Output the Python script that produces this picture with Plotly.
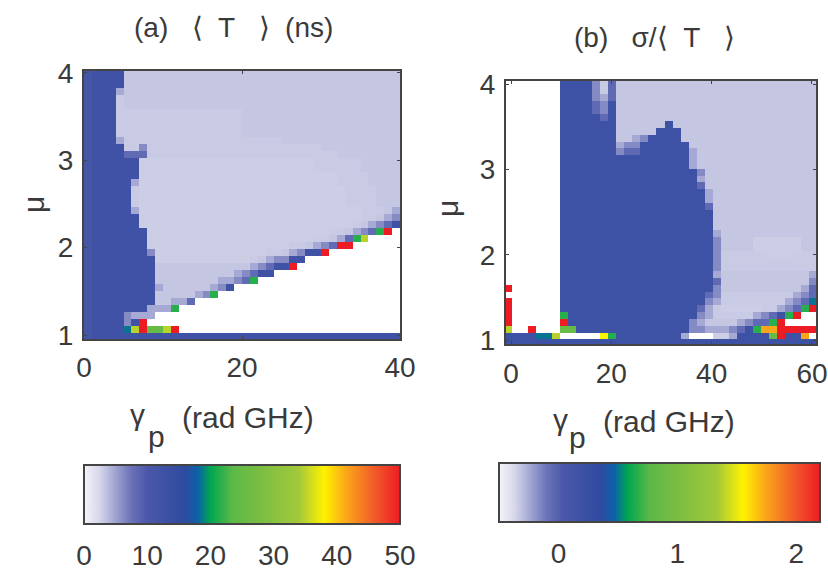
import re
import plotly.graph_objects as go

W, H = 828, 571

# Colour levels: symbol -> value
levels_a = dict(k=2.9, l=3.05, L=3.3, m=4.7, n=6.2, b=8.2, D=11, d=12.5, t=18.5, g=21.5,
                G=25, y=35, Y=38, o=41.5, r=50)
levels_b = dict(k=-0.343, l=-0.335, L=-0.322, m=-0.246, n=-0.16, b=-0.05, D=0.0, d=0.18, t=0.5, g=0.66,
                G=0.85, y=1.39, Y=1.55, o=1.74, r=2.2)

# Panel (a): rows from top (mu~4) to bottom (mu~1); run-length coded cells, "." = no data
rows_a = [
    "D1 d4 L35", "D1 d4 L35", "D1 d4 L35", "D1 d3 m1 L35",
    "D1 d3 l1 L35", "D1 d3 l1 L35", "D1 d3 l16 L20", "D1 d3 l16 L20",
    "D1 d3 l16 L20", "D1 d3 l16 L20", "D1 d3 m1 l20 L15", "D1 d4 l2 n1 l22 L10",
    "D1 d4 b3 l24 L8", "D1 d6 k22 l6 L5", "D1 d6 k22 l6 L5", "D1 d6 k25 l4 L4",
    "D1 d5 m1 k25 l4 L4", "D1 d5 l1 k26 l4 L3", "D1 d5 l1 k26 l4 L3", "D1 d5 l1 k26 l4 L3",
    "D1 d5 m1 k28 l3 L1 m1", "D1 d6 k28 l2 L1 m1 n1", "D1 d6 k27 l1 L1 m1 n1 b1 d1",
    "D1 d7 k23 l2 L1 m1 n1 b1 g1 r1 .1", "D1 d7 k21 l2 L1 m1 b1 g1 y1 .4",
    "D1 d7 k18 l2 L1 m1 n1 b1 r2 .6", "D1 d7 n1 k14 l2 L1 m1 n1 d2 r1 .9",
    "D1 d8 k12 l1 L1 m1 n2 d2 .12", "D1 d8 L12 m1 n1 b1 d2 r1 .13",
    "D1 d8 L10 m1 n1 b1 d2 .16", "D1 d8 L8 m2 n1 b1 g1 .18", "D1 d8 m1 L6 m1 n1 d1 .21",
    "D1 d8 L5 m1 n1 g1 .23", "D1 d8 L2 m2 b1 .26", "D1 d7 m3 g1 .28", "D1 d4 n1 m3 .31",
    "D1 d4 n1 d1 r1 .32", "D1 d4 t1 y1 r1 G2 y1 r1 .28", "D1 d39",
]

# Panel (b)
rows_b = [
    ".7 d4 n1 l1 b1 L25", ".7 d4 n1 l1 b1 L25", ".7 d4 n1 m1 b1 L25", ".7 d4 b1 n1 d1 L25",
    ".7 d4 b1 n1 d1 L25", ".7 d5 b1 d1 L25", ".7 d7 L6 d1 L18", ".7 d7 L5 d3 L17",
    ".7 d7 L2 m1 n1 d4 L17", ".7 d7 m1 n2 d6 L16", ".7 d7 n1 b2 d6 m1 L15", ".7 d16 m1 L15",
    ".7 d16 m1 L15", ".7 d17 n1 L14", ".7 d17 m1 L14", ".7 d17 b1 L14", ".7 d18 m1 L13",
    ".7 d18 m1 L13", ".7 d18 b1 L13", ".7 d19 L13", ".7 d19 L13", ".7 d19 L13",
    ".7 d19 m1 L12", ".7 d19 n1 L4 k6 L2", ".7 d19 n1 L4 k6 L2", ".7 d19 n1 l6 k3 l3",
    ".7 d19 n1 l12", ".7 d19 n1 l12", ".7 d19 m1 L11 m1", ".7 d19 b1 L11 n1",
    "r1 .6 d19 n1 L10 m1 b1", ".7 d18 b1 n1 l9 m1 n1 b1", "r1 .6 d18 n1 m1 l8 m1 n1 b1 t1",
    "r1 .6 d17 b1 m1 l1 k5 l2 m1 n1 b1 g1 r1", "r1 .6 g1 d16 n1 m1 l5 m1 n1 b1 d1 g1 r1 .2",
    "r1 .6 r1 d15 n1 m1 L4 m1 n1 b2 g1 r1 .4", "y1 .2 r1 .3 G2 d14 n2 m3 n1 b1 d1 g1 o2 r5",
    "d4 t2 y1 .5 Y1 g1 d8 m1 .3 k2 m1 d4 G1 r1 d2 o1 .1", "d39",
]

x_a = [0.5 + i for i in range(40)]
y_a = [0.99 + 0.08 * i for i in range(39)]
x_b = [-0.6 + 1.6 * i for i in range(39)]
y_b = [0.97 + 0.08 * i for i in range(39)]

ticks_x_a = [0, 20, 40]
ticks_x_b = [0, 20, 40, 60]
ticks_y = [1, 2, 3, 4]
ticks_cb_a = [0, 10, 20, 30, 40, 50]
ticks_cb_b = [0, 1, 2]

colorscale = [
    [0.00, "#f4f4fa"], [0.05, "#d5d6ea"], [0.10, "#9fa3d0"], [0.15, "#6a72b8"],
    [0.20, "#4b58a9"], [0.32, "#2e4a9f"], [0.36, "#0b62a8"], [0.40, "#00a651"],
    [0.47, "#5cb947"], [0.55, "#78bd43"], [0.68, "#a3c93a"], [0.76, "#fff200"],
    [0.83, "#faa61a"], [0.92, "#f15a29"], [1.00, "#ed1c24"],
]

TXT = "#3a3a3a"
FRAME = "#444444"
FONT = "Liberation Sans, Arial, sans-serif"
SIZE = 28


def decode(rows, levels, ncol):
    z = []
    for row in rows:
        cells = []
        for sym, n in re.findall(r"(\S)(\d+)", row):
            cells += [None if sym == "." else levels[sym]] * int(n)
        assert len(cells) == ncol, (row, len(cells))
        z.append(cells)
    return z[::-1]


def fx(p):
    return p / W


def fy(p):
    return 1 - p / H


def cbar(x0, x1, y0, y1, tickvals):
    return dict(
        orientation="h", xref="paper", yref="paper",
        x=fx(x0), xanchor="left", y=fy(y0), yanchor="top",
        lenmode="pixels", len=x1 - x0, thicknessmode="pixels", thickness=y1 - y0,
        xpad=0, ypad=0, outlinecolor=FRAME, outlinewidth=2, borderwidth=0,
        ticks="outside", ticklen=7, tickcolor="rgba(0,0,0,0)", tickwidth=1, tickvals=tickvals,
        tickfont=dict(size=SIZE, color=TXT, family=FONT),
    )


fig = go.Figure()
fig.add_trace(go.Heatmap(
    x=x_a, y=y_a, z=decode(rows_a, levels_a, 40), zmin=0, zmax=50, colorscale=colorscale,
    xaxis="x", yaxis="y", hoverongaps=False, colorbar=cbar(84, 400, 465, 524, ticks_cb_a),
))
fig.add_trace(go.Heatmap(
    x=x_b, y=y_b, z=decode(rows_b, levels_b, 39), zmin=-0.5, zmax=2.2, colorscale=colorscale,
    xaxis="x2", yaxis="y2", hoverongaps=False, colorbar=cbar(499, 820, 463, 522, ticks_cb_b),
))

axis_common = dict(
    showgrid=False, zeroline=False, showline=True, linecolor=FRAME, linewidth=2, mirror="allticks",
    ticks="inside", ticklen=3, tickcolor=FRAME, tickwidth=1,
    tickfont=dict(size=SIZE, color=TXT, family=FONT),
)

fig.update_layout(
    width=W, height=H, autosize=False,
    margin=dict(l=0, r=0, t=0, b=0, pad=0, autoexpand=False),
    paper_bgcolor="white", plot_bgcolor="white", showlegend=False,
    font=dict(family=FONT, size=SIZE, color=TXT),
    xaxis=dict(domain=[fx(84), fx(400)], range=[0, 40], tickvals=ticks_x_a, anchor="y",
               ticklabelstandoff=2, **axis_common),
    yaxis=dict(domain=[fy(339), fy(71)], range=[0.955, 4.02], tickvals=ticks_y, anchor="x",
               ticklabelstandoff=3, **axis_common),
    xaxis2=dict(domain=[fx(506), fx(816)], range=[-1, 60.8], tickvals=ticks_x_b, anchor="y2",
                ticklabelstandoff=3, **axis_common),
    yaxis2=dict(domain=[fy(344), fy(81)], range=[0.953, 4.04], tickvals=ticks_y, anchor="x2",
                ticklabelstandoff=3, **axis_common),
)

# small inward tick marks on both long edges of the colour bars, placed from the tick values
for x0, x1, y0, y1, lo, hi, vals in [(84, 400, 465, 524, 0, 50, ticks_cb_a),
                                     (499, 820, 463, 522, -0.5, 2.2, ticks_cb_b)]:
    for v in vals:
        px = x0 + (v - lo) / (hi - lo) * (x1 - x0)
        for a, b in [(y0, y0 + 3), (y1 - 3, y1)]:
            fig.add_shape(type="line", xref="paper", yref="paper", x0=fx(px), x1=fx(px),
                          y0=fy(a), y1=fy(b), line=dict(color=FRAME, width=1))

NB = "\u00a0"
labels = [
    (f"(a){NB*3}⟨{NB*2}T{NB*3}⟩{NB*2}(ns)", 234, 28, 0, SIZE),
    (f"(b){NB*3}σ/⟨{NB*2}T{NB*3}⟩", 654, 38, 0, SIZE),
    ("μ", 33, 205, -90, 30),
    ("μ", 447, 208, -90, 30),
    ("γ", 137, 414, 0, 30),
    ("p", 156, 436, 0, 30),
    ("(rad GHz)", 248, 417, 0, 30),
    ("γ", 560, 419, 0, 30),
    ("p", 577, 437, 0, 30),
    ("(rad GHz)", 669, 421, 0, 30),
]
for text, px, py, ang, size in labels:
    fig.add_annotation(text=text, xref="paper", yref="paper", x=fx(px), y=fy(py), xanchor="center",
                       yanchor="middle", showarrow=False, textangle=ang,
                       font=dict(size=size, color=TXT, family=FONT))

fig.write_html("out.html", config={"displayModeBar": False},
               post_script="document.body.style.margin='0';")
